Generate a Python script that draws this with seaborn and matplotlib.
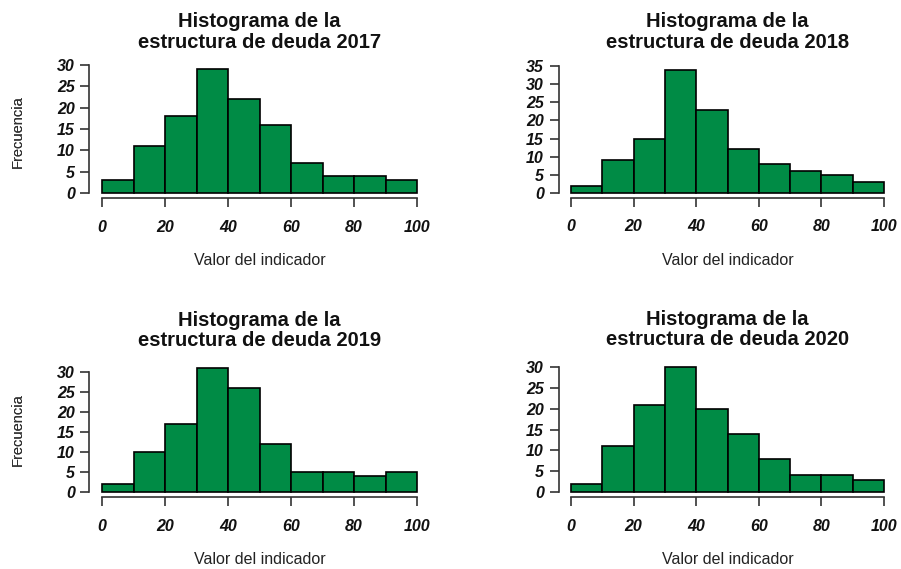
import numpy as np
import pandas as pd
import matplotlib
matplotlib.use("Agg")
import matplotlib.pyplot as plt
import seaborn as sns

sns.set_style("white")
plt.rcParams['font.family'] = ['Liberation Sans', 'DejaVu Sans']

bin_edges = [0, 10, 20, 30, 40, 50, 60, 70, 80, 90, 100]
years = ["2017", "2018", "2019", "2020"]
counts_2017 = [3, 11, 18, 29, 22, 16, 7, 4, 4, 3]
counts_2018 = [2, 9, 15, 34, 23, 12, 8, 6, 5, 3]
counts_2019 = [2, 10, 17, 31, 26, 12, 5, 5, 4, 5]
counts_2020 = [2, 11, 21, 30, 20, 14, 8, 4, 4, 3]
all_counts = [counts_2017, counts_2018, counts_2019, counts_2020]
x_ticks = [0, 20, 40, 60, 80, 100]
title_line1 = "Histograma de la"
title_line2 = "estructura de deuda "
xlabel = "Valor del indicador"
ylabel = "Frecuencia"

W, H = 901, 569
fig = plt.figure(figsize=(W / 100, H / 100), dpi=100)

# plot regions in pixel coords (left, right, top, bottom)
regions = [
    (89.4, 429.6, 64.3, 198.0),
    (558.5, 896.5, 64.7, 197.9),
    (89.4, 429.6, 363.0, 497.0),
    (558.5, 896.5, 362.0, 497.0),
]
color = "#008B45"

for yr, counts, (l, r, t, b) in zip(years, all_counts, regions):
    ax = fig.add_axes([l / W, 1 - b / H, (r - l) / W, (b - t) / H])
    centers = [(bin_edges[i] + bin_edges[i + 1]) / 2 for i in range(len(counts))]
    df = pd.DataFrame({"x": centers, "w": counts})
    sns.histplot(data=df, x="x", weights="w", bins=bin_edges, ax=ax,
                 color=color, alpha=1, edgecolor="black", linewidth=1.2)
    M = max(counts)
    ax.set_xlim(-4, 104)
    ax.set_ylim(-0.04 * M, 1.04 * M)
    yt = list(range(0, int(1.04 * M) + 1, 5))
    ax.set_yticks(yt)
    ax.set_xticks(x_ticks)
    for s in ["top", "right"]:
        ax.spines[s].set_visible(False)
    ax.spines["left"].set_bounds(0, yt[-1])
    ax.spines["bottom"].set_bounds(0, 100)
    for s in ["left", "bottom"]:
        ax.spines[s].set_color("#333333")
        ax.spines[s].set_linewidth(1.2)
    ax.tick_params(axis="both", direction="out", length=6.5, width=1.2,
                   color="#333333", left=True, bottom=True)
    ax.tick_params(axis="y", pad=4)
    ax.tick_params(axis="x", pad=9)
    for lab in ax.get_yticklabels() + ax.get_xticklabels():
        lab.set_fontweight("bold")
        lab.set_fontstyle("italic")
        lab.set_fontsize(11.5)
        lab.set_color("#111111")
    ax.set_xlabel(xlabel, fontsize=11.5, color="#222222")
    ax.set_ylabel(ylabel, fontsize=10.5, color="#333333")
    ax.yaxis.set_label_coords(-(l - 18) / (r - l), 0.5)
    ax.xaxis.set_label_coords(0.5, -63.0 / (b - t))
    ax.xaxis.label.set_va("center")
    ax.yaxis.label.set_va("center")
    ax.set_title(title_line1 + "\n" + title_line2 + yr, fontsize=14.5,
                 fontweight="bold", pad=12, linespacing=1.12, color="#111111")
    ax.grid(False)

fig.savefig("out.png", dpi=100, facecolor="white")
